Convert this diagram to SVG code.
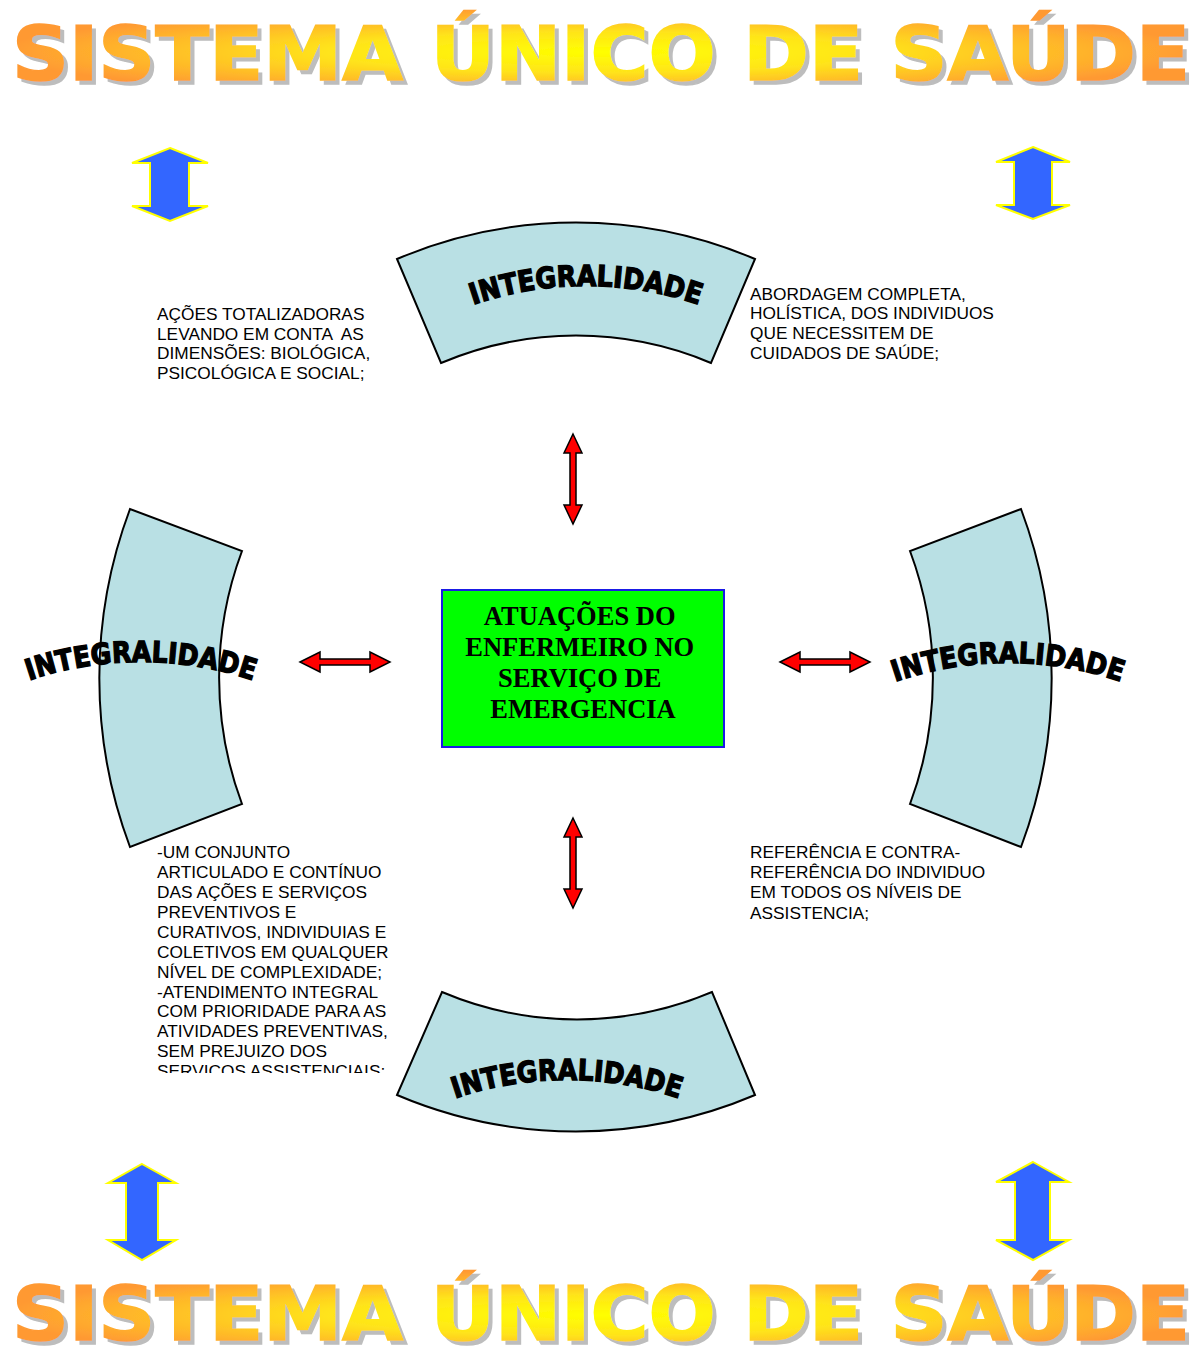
<svg xmlns="http://www.w3.org/2000/svg" width="1198" height="1349" viewBox="0 0 1198 1349">
<defs>
<radialGradient id="gt" gradientUnits="userSpaceOnUse" cx="600" cy="52" r="600" gradientTransform="translate(600 52) scale(1 0.075) translate(-600 -52)">
<stop offset="0" stop-color="#FFFF00"/><stop offset="0.45" stop-color="#FFE41A"/><stop offset="1" stop-color="#FF9933"/>
</radialGradient>
<radialGradient id="gb" gradientUnits="userSpaceOnUse" cx="600" cy="1315" r="600" gradientTransform="translate(600 1315) scale(1 0.075) translate(-600 -1315)">
<stop offset="0" stop-color="#FFFF00"/><stop offset="0.45" stop-color="#FFE41A"/><stop offset="1" stop-color="#FF9933"/>
</radialGradient>
<filter id="shadow" x="-5%" y="-30%" width="110%" height="160%">
<feOffset in="SourceAlpha" dx="4" dy="4" result="o"/>
<feFlood flood-color="#BDBDBD"/>
<feComposite in2="o" operator="in" result="s"/>
<feMerge><feMergeNode in="s"/><feMergeNode in="SourceGraphic"/></feMerge>
</filter>
<clipPath id="clipBL"><rect x="140" y="830" width="280" height="243"/></clipPath>
<path id="arcTop" d="M466,307.2 A350,350 0 0 1 706,307.2"/>
<path id="arcLeft" d="M21,683.2 A350,350 0 0 1 261,683.2"/>
<path id="arcRight" d="M888,684.2 A350,350 0 0 1 1128,684.2"/>
<path id="arcBottom" d="M447,1101.2 A350,350 0 0 1 687,1101.2"/>
</defs>
<style>
.title{font-family:"DejaVu Sans","Liberation Sans",sans-serif;font-weight:bold;font-size:75px;stroke-width:1.5}
.band{fill:#B9E0E4;stroke:#000;stroke-width:2}
.curv{font-family:"DejaVu Sans","Liberation Sans",sans-serif;font-weight:bold;font-size:29px;fill:#000;stroke:#000;stroke-width:1.4}
.blue{fill:#3366FF;stroke:#FFFF00;stroke-width:2}
.red{fill:#FF0000;stroke:#000;stroke-width:1.5}
.body{font-family:"Liberation Sans",Arial,sans-serif;font-size:17.3px;fill:#000}
.center{font-family:"Liberation Serif","Times New Roman",serif;font-weight:bold;font-size:26.5px;fill:#000}
</style>

<g id="title-top">
<text class="title" x="12" y="80" textLength="1178" lengthAdjust="spacingAndGlyphs" fill="url(#gt)" stroke="url(#gt)" filter="url(#shadow)">SISTEMA ÚNICO DE SAÚDE</text>
</g>

<g id="title-bottom">
<text class="title" x="12" y="1340" textLength="1178" lengthAdjust="spacingAndGlyphs" fill="url(#gb)" stroke="url(#gb)" filter="url(#shadow)">SISTEMA ÚNICO DE SAÚDE</text>
</g>

<g id="blue-arrows">
<polygon class="blue" points="170,148 208,163 189,163 189,206 208,206 170,221 132,206 150,206 150,163 132,163"/>
<polygon class="blue" points="1033,147 1070,162 1052,162 1052,205 1070,205 1033,219 996,205 1014,205 1014,162 996,162"/>
<polygon class="blue" points="142,1164 176,1183 158,1183 158,1240 176,1240 142,1260 108,1240 126,1240 126,1183 108,1183"/>
<polygon class="blue" points="1033,1162 1069,1182 1050,1182 1050,1240 1069,1240 1033,1260 996,1240 1015,1240 1015,1182 996,1182"/>
</g>

<g id="node-top">
<path class="band" d="M397,259 A458,458 0 0 1 755,259 L711,363 A346,346 0 0 0 441,363 Z"/>
<text class="curv"><textPath href="#arcTop" startOffset="50%" text-anchor="middle" textLength="230" lengthAdjust="spacingAndGlyphs">INTEGRALIDADE</textPath></text>
</g>

<g id="node-left">
<path class="band" d="M130,509 A481,481 0 0 0 130,847 L242,804 A361,361 0 0 1 242,551 Z"/>
<text class="curv"><textPath href="#arcLeft" startOffset="50%" text-anchor="middle" textLength="228" lengthAdjust="spacingAndGlyphs">INTEGRALIDADE</textPath></text>
</g>

<g id="node-right">
<path class="band" d="M1021,509 A481,481 0 0 1 1021,847 L910,804 A361,361 0 0 0 910,551 Z"/>
<text class="curv"><textPath href="#arcRight" startOffset="50%" text-anchor="middle" textLength="230" lengthAdjust="spacingAndGlyphs">INTEGRALIDADE</textPath></text>
</g>

<g id="node-bottom">
<path class="band" d="M442,992 A346,346 0 0 0 712,992 L755,1095 A458,458 0 0 1 397,1095 Z"/>
<text class="curv"><textPath href="#arcBottom" startOffset="50%" text-anchor="middle" textLength="228" lengthAdjust="spacingAndGlyphs">INTEGRALIDADE</textPath></text>
</g>

<g id="node-center">
<rect x="442" y="590" width="282" height="157" fill="#00FF00" stroke="#1A1AE6" stroke-width="2"/>
<text class="center" text-anchor="middle">
<tspan x="583" y="625">ATUAÇÕES DO</tspan>
<tspan x="583" y="656">ENFERMEIRO NO</tspan>
<tspan x="583" y="687">SERVIÇO DE</tspan>
<tspan x="583" y="718">EMERGENCIA</tspan>
</text>
</g>

<g id="connectors">
<polygon class="red" points="573,434 582,453 576,453 576,505 582,505 573,524 564,505 570,505 570,453 564,453"/>
<polygon class="red" points="573,818 582,837 576,837 576,889 582,889 573,908 564,889 570,889 570,837 564,837"/>
<polygon class="red" points="300,662 320,652 320,659 370,659 370,652 390,662 370,672 370,665 320,665 320,672"/>
<polygon class="red" points="780,662 800,652 800,659 850,659 850,652 870,662 850,672 850,665 800,665 800,672"/>
</g>

<g id="text-top-left">
<text class="body">
<tspan x="157" y="320">AÇÕES TOTALIZADORAS</tspan>
<tspan x="157" y="340" xml:space="preserve">LEVANDO EM CONTA  AS</tspan>
<tspan x="157" y="359">DIMENSÕES: BIOLÓGICA,</tspan>
<tspan x="157" y="379">PSICOLÓGICA E SOCIAL;</tspan>
</text>
</g>

<g id="text-top-right">
<text class="body">
<tspan x="750" y="300">ABORDAGEM COMPLETA,</tspan>
<tspan x="750" y="319">HOLÍSTICA, DOS INDIVIDUOS</tspan>
<tspan x="750" y="339">QUE NECESSITEM DE</tspan>
<tspan x="750" y="359">CUIDADOS DE SAÚDE;</tspan>
</text>
</g>

<g id="text-bottom-left" clip-path="url(#clipBL)">
<text class="body">
<tspan x="157" y="858">-UM CONJUNTO</tspan>
<tspan x="157" y="878">ARTICULADO E CONTÍNUO</tspan>
<tspan x="157" y="898">DAS AÇÕES E SERVIÇOS</tspan>
<tspan x="157" y="918">PREVENTIVOS E</tspan>
<tspan x="157" y="938">CURATIVOS, INDIVIDUIAS E</tspan>
<tspan x="157" y="958">COLETIVOS EM QUALQUER</tspan>
<tspan x="157" y="978">NÍVEL DE COMPLEXIDADE;</tspan>
<tspan x="157" y="998">-ATENDIMENTO INTEGRAL</tspan>
<tspan x="157" y="1017">COM PRIORIDADE PARA AS</tspan>
<tspan x="157" y="1037">ATIVIDADES PREVENTIVAS,</tspan>
<tspan x="157" y="1057">SEM PREJUIZO DOS</tspan>
<tspan x="157" y="1077">SERVIÇOS ASSISTENCIAIS;</tspan>
</text>
</g>

<g id="text-bottom-right">
<text class="body">
<tspan x="750" y="858">REFERÊNCIA E CONTRA-</tspan>
<tspan x="750" y="878">REFERÊNCIA DO INDIVIDUO</tspan>
<tspan x="750" y="898">EM TODOS OS NÍVEIS DE</tspan>
<tspan x="750" y="919">ASSISTENCIA;</tspan>
</text>
</g>
</svg>
